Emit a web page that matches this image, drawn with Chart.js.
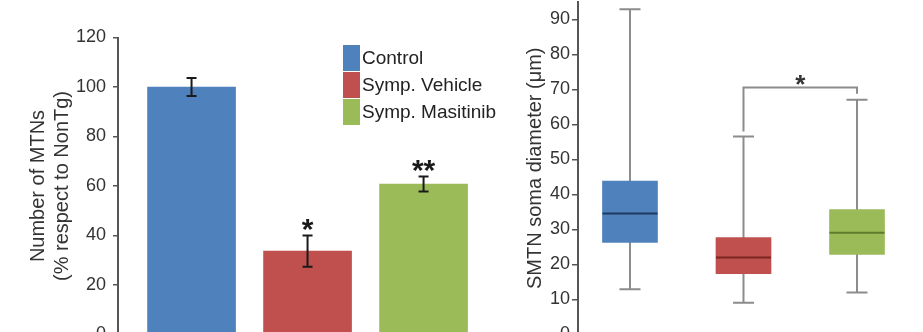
<!DOCTYPE html>
<html><head><meta charset="utf-8">
<script src="https://cdn.jsdelivr.net/npm/chart.js@4.4.1/dist/chart.umd.min.js"></script>
<style>
html,body{margin:0;padding:0;background:#fff;width:923px;height:332px;overflow:hidden;position:relative}
#l{position:absolute;left:0;top:0;width:505px;height:380px}
#r{position:absolute;left:505px;top:-18.5px;width:418px;height:400px}
</style></head><body>
<div id="l"><canvas id="c1"></canvas></div>
<div id="r"><canvas id="c2"></canvas></div>
<script>
// ---- data ----
const groups = ['Control', 'Symp. Vehicle', 'Symp. Masitinib'];
const mtnPercent = [100, 33.7, 60.8];
const mtnError = [3.6, 6.3, 3.0];
const mtnSignif = ['', '*', '**'];
const yTicksLeft = [0, 20, 40, 60, 80, 100, 120];

const somaMin = [12.9, 9.1, 12.0];
const somaQ1 = [26.3, 17.4, 22.9];
const somaMedian = [34.6, 22.0, 29.1];
const somaQ3 = [43.8, 27.7, 35.7];
const somaMax = [92.9, 56.6, 67.1];
const yTicksRight = [0, 10, 20, 30, 40, 50, 60, 70, 80, 90];
const bracketGroups = [1, 2];
const bracketValue = 70.6;
const bracketLabel = '*';

// ---- styles ----
const FONT = "'Liberation Sans', Arial, sans-serif";
const colors = ['#4f81bd', '#c0504d', '#9bbb59'];
const medianColors = ['#1f3a60', '#7b2523', '#5f7d2c'];
const textColor = '#333';

function drawCentered(ctx, text, x, cy) {
  const m = ctx.measureText(text);
  const base = cy + (m.actualBoundingBoxAscent - m.actualBoundingBoxDescent) / 2;
  ctx.textAlign = 'center';
  ctx.textBaseline = 'alphabetic';
  ctx.fillText(text, x, base);
}

const errorBarPlugin = {
  id: 'errbars',
  afterDatasetsDraw(chart) {
    const {ctx, scales: {x, y}} = chart;
    ctx.save();
    ctx.strokeStyle = '#1a1a1a';
    ctx.fillStyle = '#1a1a1a';
    ctx.lineWidth = 2;
    groups.forEach((g, i) => {
      const px = x.getPixelForValue(i + 1);
      const top = y.getPixelForValue(mtnPercent[i] + mtnError[i]);
      const bot = y.getPixelForValue(mtnPercent[i] - mtnError[i]);
      ctx.beginPath();
      ctx.moveTo(px, top); ctx.lineTo(px, bot);
      ctx.moveTo(px - 5, top); ctx.lineTo(px + 5, top);
      ctx.moveTo(px - 5, bot); ctx.lineTo(px + 5, bot);
      ctx.stroke();
      if (mtnSignif[i]) {
        ctx.font = 'bold 30px ' + FONT;
        drawCentered(ctx, mtnSignif[i], px, top - 11);
      }
    });
    ctx.restore();
  }
};

const legendPlugin = {
  id: 'boxlegend',
  afterDraw(chart, args, o) {
    const ctx = chart.ctx;
    ctx.save();
    ctx.font = o.fontSize + 'px ' + FONT;
    ctx.textAlign = 'left';
    ctx.textBaseline = 'middle';
    groups.forEach((g, i) => {
      const yy = o.top + i * o.pitch;
      ctx.fillStyle = colors[i];
      ctx.fillRect(o.left, yy, o.boxW, o.boxH);
      ctx.fillStyle = '#222';
      ctx.fillText(g, o.left + o.boxW + 2, yy + o.boxH / 2 + 1);
    });
    ctx.restore();
  }
};

new Chart(document.getElementById('c1'), {
  type: 'bar',
  data: {
    datasets: [{
      data: groups.map((g, i) => ({x: i + 1, y: mtnPercent[i]})),
      backgroundColor: colors,
      borderWidth: 0,
      barThickness: 88
    }]
  },
  options: {
    animation: false,
    responsive: true,
    maintainAspectRatio: false,
    layout: {padding: {left: 0, right: 5, top: 37.5, bottom: 45.5}},
    plugins: {
      legend: {display: false},
      tooltip: {enabled: false},
      boxlegend: {left: 343, top: 45, pitch: 27, boxW: 17, boxH: 26, fontSize: 19}
    },
    scales: {
      x: {type: 'linear', offset: false, min: 0.366, max: 3.659, display: false},
      y: {
        min: 0, max: 120,
        afterBuildTicks: s => { s.ticks = yTicksLeft.map(v => ({value: v})); },
        afterFit: s => { s.width = 118; },
        ticks: {font: {family: FONT, size: 18}, color: textColor, padding: 7},
        grid: {drawOnChartArea: false, tickLength: 5, color: '#555', lineWidth: 1.5},
        border: {color: '#555', width: 2},
        title: {
          display: true,
          text: ['Number of MTNs', '(% respect to NonTg)'],
          font: {family: FONT, size: 20, lineHeight: 1.2},
          color: textColor,
          padding: {top: 26, bottom: 0}
        }
      }
    }
  },
  plugins: [errorBarPlugin, legendPlugin]
});

const boxPlugin = {
  id: 'boxparts',
  beforeDatasetsDraw(chart) {
    const {ctx, scales: {x, y}} = chart;
    ctx.save();
    ctx.strokeStyle = '#8c8c8c';
    ctx.lineWidth = 2;
    groups.forEach((g, i) => {
      const px = x.getPixelForValue(i + 1);
      const t = y.getPixelForValue(somaMax[i]);
      const b = y.getPixelForValue(somaMin[i]);
      ctx.beginPath();
      ctx.moveTo(px, t); ctx.lineTo(px, b);
      ctx.moveTo(px - 10.5, t); ctx.lineTo(px + 10.5, t);
      ctx.moveTo(px - 10.5, b); ctx.lineTo(px + 10.5, b);
      ctx.stroke();
    });
    ctx.restore();
  },
  afterDatasetsDraw(chart) {
    const {ctx, scales: {x, y}} = chart;
    ctx.save();
    ctx.lineWidth = 2;
    groups.forEach((g, i) => {
      const px = x.getPixelForValue(i + 1);
      const my = y.getPixelForValue(somaMedian[i]);
      ctx.strokeStyle = medianColors[i];
      ctx.beginPath();
      ctx.moveTo(px - 27.5, my); ctx.lineTo(px + 27.5, my);
      ctx.stroke();
    });
    // significance bracket
    const [a, b] = bracketGroups;
    const xa = x.getPixelForValue(a + 1), xb = x.getPixelForValue(b + 1);
    const by = y.getPixelForValue(bracketValue);
    ctx.strokeStyle = '#8c8c8c';
    ctx.beginPath();
    ctx.moveTo(xa, y.getPixelForValue(somaMax[a]) - 5);
    ctx.lineTo(xa, by); ctx.lineTo(xb, by);
    ctx.lineTo(xb, y.getPixelForValue(somaMax[b]) - 6);
    ctx.stroke();
    ctx.fillStyle = '#333';
    ctx.font = 'bold 26px ' + FONT;
    drawCentered(ctx, bracketLabel, (xa + xb) / 2, by - 7);
    ctx.restore();
  }
};

new Chart(document.getElementById('c2'), {
  type: 'bar',
  data: {
    datasets: [{
      data: groups.map((g, i) => ({x: i + 1, y: [somaQ1[i], somaQ3[i]]})),
      backgroundColor: colors,
      borderWidth: 0,
      barThickness: 55
    }]
  },
  options: {
    animation: false,
    responsive: true,
    maintainAspectRatio: false,
    layout: {padding: {left: 0, right: 8, top: 20, bottom: 47.5}},
    plugins: {legend: {display: false}, tooltip: {enabled: false}},
    scales: {
      x: {type: 'linear', offset: false, min: 0.542, max: 3.511, display: false},
      y: {
        min: 0, max: 95,
        afterBuildTicks: s => { s.ticks = yTicksRight.map(v => ({value: v})); },
        afterFit: s => { s.width = 73; },
        ticks: {font: {family: FONT, size: 18}, color: textColor, padding: 2},
        grid: {drawOnChartArea: false, tickLength: 6, color: '#555', lineWidth: 1.5},
        border: {color: '#555', width: 2},
        title: {
          display: true,
          text: 'SMTN soma diameter (\u03bcm)',
          font: {family: FONT, size: 20, lineHeight: 1.2},
          color: textColor,
          padding: {top: 18, bottom: 0}
        }
      }
    }
  },
  plugins: [boxPlugin]
});
</script>
</body></html>
